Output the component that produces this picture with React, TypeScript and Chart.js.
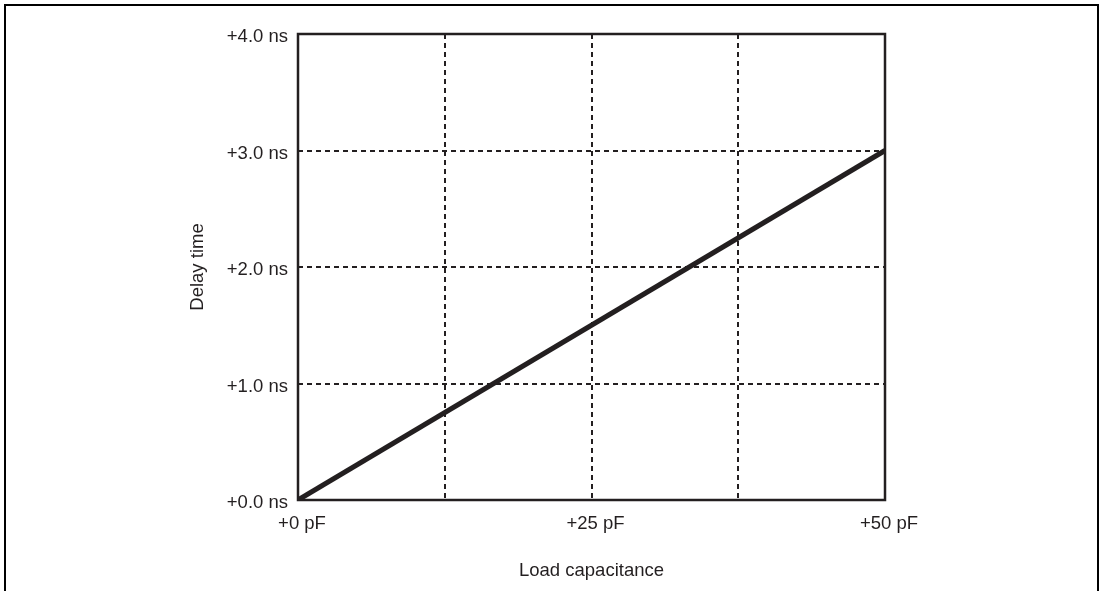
import React, { useEffect, useRef } from "react";
import { Chart, registerables } from "chart.js";

Chart.register(...registerables);

const capacitancePF = [0, 50];
const delayNS = [0, 3];
const xTickValues = [0, 12.5, 25, 37.5, 50];
const xTickLabels = ["+0 pF", "", "+25 pF", "", "+50 pF"];
const yTickLabels = ["+0.0 ns", "+1.0 ns", "+2.0 ns", "+3.0 ns", "+4.0 ns"];
const xTitle = "Load capacitance";
const yTitle = "Delay time";

const INK = "#231f20";
const FONT = { family: "'Liberation Sans', Arial, Helvetica, sans-serif", size: 18.5 };

const boxPlugin = {
  id: "plotBox",
  beforeDatasetsDraw(chart: any) {
    const { ctx, chartArea } = chart;
    ctx.save();
    ctx.setLineDash([]);
    ctx.lineWidth = 2.5;
    ctx.strokeStyle = INK;
    ctx.strokeRect(chartArea.left, chartArea.top, chartArea.right - chartArea.left, chartArea.bottom - chartArea.top);
    ctx.restore();
  },
};

export default function App() {
  const ref = useRef<HTMLCanvasElement | null>(null);

  useEffect(() => {
    if (!ref.current) return;
    const chart = new Chart(ref.current, {
      type: "line",
      data: {
        datasets: [
          {
            data: capacitancePF.map((x, i) => ({ x, y: delayNS[i] })),
            borderColor: INK,
            borderWidth: 5,
            pointRadius: 0,
            fill: false,
            tension: 0,
          },
        ],
      },
      options: {
        animation: false,
        responsive: false,
        layout: { padding: { left: 0, top: 34, right: 217, bottom: 0 } },
        plugins: { legend: { display: false }, tooltip: { enabled: false } },
        scales: {
          x: {
            type: "linear",
            min: 0,
            max: 50,
            afterBuildTicks: (scale: any) => {
              scale.ticks = xTickValues.map((v) => ({ value: v }));
            },
            afterFit: (scale: any) => {
              scale.height = 91;
            },
            ticks: {
              color: INK,
              font: FONT,
              padding: 13,
              labelOffset: 4,
              maxRotation: 0,
              autoSkip: false,
              callback: (v: any) => {
                const i = xTickValues.indexOf(Number(v));
                return i >= 0 ? xTickLabels[i] : "";
              },
            },
            grid: { color: INK, lineWidth: 2, drawTicks: false },
            border: { display: false, dash: [5, 4] },
            title: { display: true, text: xTitle, color: INK, font: FONT, padding: { top: 0, bottom: 9 } },
          },
          y: {
            type: "linear",
            min: 0,
            max: 4,
            afterFit: (scale: any) => {
              scale.width = 298;
            },
            ticks: {
              stepSize: 1,
              color: INK,
              font: FONT,
              padding: 10,
              labelOffset: 3,
              callback: (v: any) => yTickLabels[Math.round(Number(v))] ?? "",
            },
            grid: { color: INK, lineWidth: 2, drawTicks: false },
            border: { display: false, dash: [5, 4] },
            title: { display: true, text: yTitle, color: INK, font: FONT, padding: { top: 187, bottom: 0 } },
          },
        },
      },
      plugins: [boxPlugin],
    });
    return () => chart.destroy();
  }, []);

  return (
    <div>
      <div
        style={{
          position: "fixed",
          left: 4,
          top: 4,
          width: 1095,
          height: 620,
          border: `2px solid #000`,
          boxSizing: "border-box",
        }}
      />
      <canvas
        ref={ref}
        width={1102}
        height={591}
        style={{ position: "fixed", left: 0, top: 0, width: 1102, height: 591 }}
      />
    </div>
  );
}
